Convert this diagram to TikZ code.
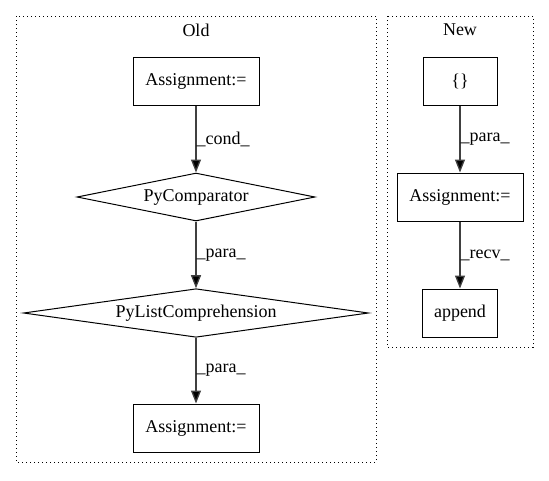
\documentclass[tikz,border=0pt]{standalone}
\usepackage{fontspec}
\setmainfont{Liberation Serif}
\usetikzlibrary{shapes.geometric,arrows.meta}
\begin{document}
\begin{tikzpicture}[x=1pt,y=-1pt,
  box/.style={draw,line width=1pt,rectangle,minimum height=48pt,inner sep=0pt,font=\fontsize{18}{20}\selectfont},
  dia/.style={draw,line width=1pt,diamond,aspect=5,inner sep=0pt,font=\fontsize{18}{20}\selectfont},
  cluster/.style={draw,line width=1pt,dash pattern=on 1pt off 3pt},
  title/.style={font=\fontsize{18}{20}\selectfont},
  elabel/.style={right,inner sep=0pt,font=\fontsize{18}{20}\selectfont},
  edge/.style={draw=black!75,line width=1.3pt,-{Triangle[length=13pt,width=10pt,fill=black]}}]
\useasboundingbox (0,0) rectangle (549,480);
% clusters
\draw[cluster] (16,16) rectangle (376,462);
\draw[cluster] (387,16) rectangle (533,347);
\node[title] (oldt) at (196,30) {Old};
\node[title] (newt) at (460,30) {New};
% Old
\node[box,minimum width=126pt] (a1) at (196,81) {Assignment:=};
\node[dia,minimum width=238pt,minimum height=48pt] (pc) at (196,197) {PyComparator};
\node[dia,minimum width=345pt,minimum height=48pt] (plc) at (196,313) {PyListComprehension};
\node[box,minimum width=126pt] (a2) at (196,428) {Assignment:=};
\draw[edge] (a1) -- node[elabel] {\_cond\_} (pc);
\draw[edge] (pc) -- node[elabel] {\_para\_} (plc);
\draw[edge] (plc) -- node[elabel] {\_para\_} (a2);
% New
\node[box,minimum width=74pt] (br) at (460,81) {\{\}};
\node[box,minimum width=126pt] (a3) at (460,197) {Assignment:=};
\node[box,minimum width=75pt] (ap) at (460,313) {append};
\draw[edge] (br) -- node[elabel] {\_para\_} (a3);
\draw[edge] (a3) -- node[elabel] {\_recv\_} (ap);
\end{tikzpicture}
\end{document}
